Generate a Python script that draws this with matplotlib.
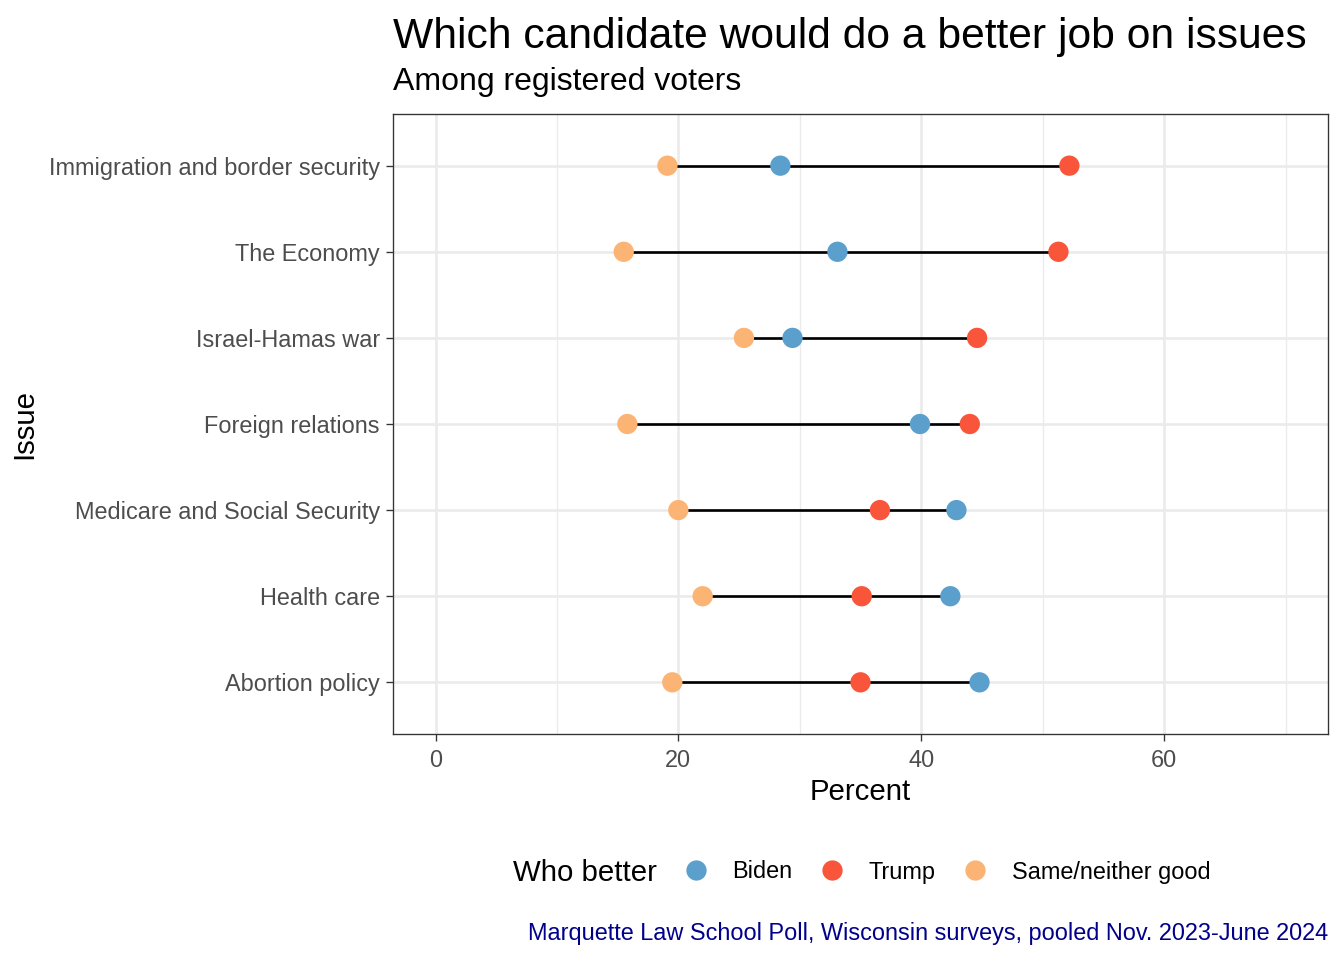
import matplotlib
matplotlib.use('Agg')
import matplotlib.pyplot as plt
from matplotlib.lines import Line2D

plt.rcParams['font.family'] = ['Liberation Sans', 'DejaVu Sans']

# Issues, top to bottom as shown
issues = ['Immigration and border security', 'The Economy', 'Israel-Hamas war',
          'Foreign relations', 'Medicare and Social Security', 'Health care',
          'Abortion policy']
biden = [28.4, 33.1, 29.4, 39.9, 42.9, 42.4, 44.8]
trump = [52.2, 51.3, 44.6, 44.0, 36.6, 35.1, 35.0]
same = [19.1, 15.5, 25.4, 15.8, 20.0, 22.0, 19.5]

groups = ['Biden', 'Trump', 'Same/neither good']
colors = {'Biden': '#5BA0CD', 'Trump': '#F9553B', 'Same/neither good': '#FCB474'}

fig = plt.figure(figsize=(7, 5), dpi=192)
ax = fig.add_axes([393/1344, 1 - 734/960, (1328 - 393)/1344, (734 - 114)/960])

ypos = list(range(len(issues), 0, -1))

# grid (theme_bw style)
for v in [10, 30, 50, 70]:
    ax.axvline(v, color='#EBEBEB', lw=0.5, zorder=0)
for v in [0, 20, 40, 60]:
    ax.axvline(v, color='#EBEBEB', lw=1.0, zorder=0)
for y in ypos:
    ax.axhline(y, color='#EBEBEB', lw=1.0, zorder=0)

# segments from min to max
for y, b, t, s in zip(ypos, biden, trump, same):
    lo = min(b, t, s)
    hi = max(b, t, s)
    ax.plot([lo, hi], [y, y], color='black', lw=1.0, zorder=2, solid_capstyle='butt')

series = {'Biden': biden, 'Trump': trump, 'Same/neither good': same}
for g in groups:
    ax.scatter(series[g], ypos, s=58, color=colors[g], edgecolors='none', zorder=3)

ax.set_xlim(-3.5, 73.5)
ax.set_ylim(0.4, len(issues) + 0.6)
ax.set_xticks([0, 20, 40, 60])
ax.set_yticks(ypos)
ax.set_yticklabels(issues)
ax.tick_params(axis='both', length=2.75, width=0.5, color='#333333',
               labelsize=8.8, labelcolor='#4D4D4D', pad=2.2)
ax.tick_params(axis='x', pad=3.0)
for sp in ax.spines.values():
    sp.set_color('#333333')
    sp.set_linewidth(0.5)

ax.set_xlabel('Percent', fontsize=11, labelpad=2)
ax.set_ylabel('Issue', fontsize=11, labelpad=4)

fig.text(393/1344, 1 - 48/960, 'Which candidate would do a better job on issues',
         fontsize=16.0, ha='left', va='baseline')
fig.text(393/1344, 1 - 90/960, 'Among registered voters',
         fontsize=12.0, ha='left', va='baseline')

# legend
fig.text(513/1344, 1 - 881/960, 'Who better', fontsize=11, ha='left', va='baseline')
handles = [Line2D([], [], marker='o', ls='none', markersize=7.6,
                  markerfacecolor=colors[g], markeredgecolor='none') for g in groups]
fig.legend(handles, groups, loc='center', bbox_to_anchor=(947/1344, 1 - 872/960),
           ncol=3, frameon=False, fontsize=8.8, handletextpad=1.05, columnspacing=1.2,
           handlelength=1.0)

fig.text(1328/1344, 1 - 940/960,
         'Marquette Law School Poll, Wisconsin surveys, pooled Nov. 2023-June 2024',
         fontsize=8.8, color='#00008B', ha='right', va='baseline')

fig.savefig('out.png', dpi=192)
